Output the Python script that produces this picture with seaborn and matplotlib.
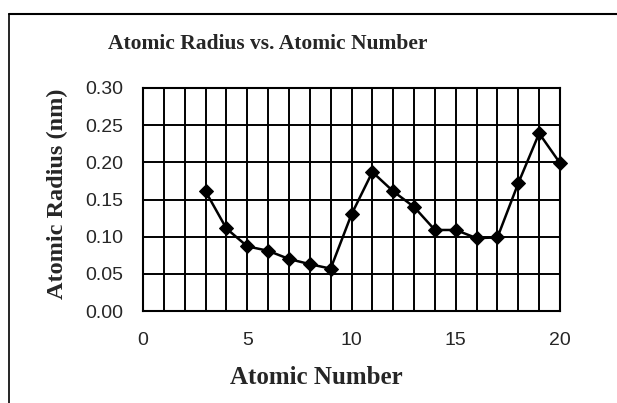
import matplotlib
matplotlib.use("Agg")
import matplotlib.pyplot as plt
import seaborn as sns
import pandas as pd
import numpy as np
from matplotlib.ticker import MultipleLocator
from matplotlib.lines import Line2D

atomic_number = [3, 4, 5, 6, 7, 8, 9, 10, 11, 12, 13, 14, 15, 16, 17, 18, 19, 20]
atomic_radius = [0.161, 0.111, 0.087, 0.081, 0.070, 0.063, 0.057, 0.130, 0.187, 0.161,
                 0.140, 0.109, 0.109, 0.098, 0.099, 0.172, 0.239, 0.199]
x_ticks = [0, 5, 10, 15, 20]
y_ticks = [0.00, 0.05, 0.10, 0.15, 0.20, 0.25, 0.30]

df = pd.DataFrame({"Atomic Number": atomic_number, "Atomic Radius": atomic_radius})

sns.set_style("white")
plt.rcParams["font.family"] = ["Liberation Sans", "DejaVu Sans"]

fig = plt.figure(figsize=(6.17, 4.03), dpi=100)
ax = fig.add_axes([143/617, 1-311/403, (560-143)/617, (311-88)/403])

sns.lineplot(data=df, x="Atomic Number", y="Atomic Radius", ax=ax, color="black",
             marker="D", markersize=7, linewidth=1.8, markeredgecolor="black",
             markerfacecolor="black", clip_on=False, zorder=5)

ax.set_xlim(0, 20)
ax.set_ylim(0, 0.30)
ax.set_xticks(x_ticks)
ax.set_yticks(y_ticks)
ax.set_xticklabels([str(v) for v in x_ticks], fontsize=14)
ax.set_yticklabels([f"{v:.2f}" for v in y_ticks], fontsize=14)
ax.xaxis.set_minor_locator(MultipleLocator(1))
ax.yaxis.set_minor_locator(MultipleLocator(0.01))
ax.tick_params(axis="x", which="major", direction="inout", length=12, width=1.3, pad=9)
ax.tick_params(axis="x", which="minor", direction="in", length=5, width=1.0)
ax.tick_params(axis="y", which="major", direction="out", length=7, width=1.3, pad=7)
ax.tick_params(axis="y", which="minor", direction="in", length=5, width=1.0)

for v in range(1, 20):
    ax.axvline(v, color="black", linewidth=1.4, zorder=0)
for v in y_ticks[1:-1]:
    ax.axhline(v, color="black", linewidth=1.4, zorder=0)

for s in ax.spines.values():
    s.set_color("black")
    s.set_linewidth(1.5)

ax.set_xlabel("")
ax.set_ylabel("")
serif = ["Liberation Serif", "DejaVu Serif"]
fig.text(268/617, 1-44/403, "Atomic Radius vs. Atomic Number", ha="center", va="center",
         fontsize=15.5, fontweight="bold", family=serif)
fig.text(316/617, 1-378/403, "Atomic Number", ha="center", va="center",
         fontsize=18, fontweight="bold", family=serif)
fig.text(57/617, 1-194/403, "Atomic Radius (nm)", ha="center", va="center", rotation=90,
         fontsize=17.5, fontweight="bold", family=serif)

fig.add_artist(Line2D([9/617, 1.0], [1-14/403, 1-14/403], color="black", linewidth=1.5,
                      transform=fig.transFigure))
fig.add_artist(Line2D([9/617, 9/617], [0.0, 1-14/403], color="black", linewidth=1.2,
                      transform=fig.transFigure))

fig.savefig("out.png", dpi=100)
